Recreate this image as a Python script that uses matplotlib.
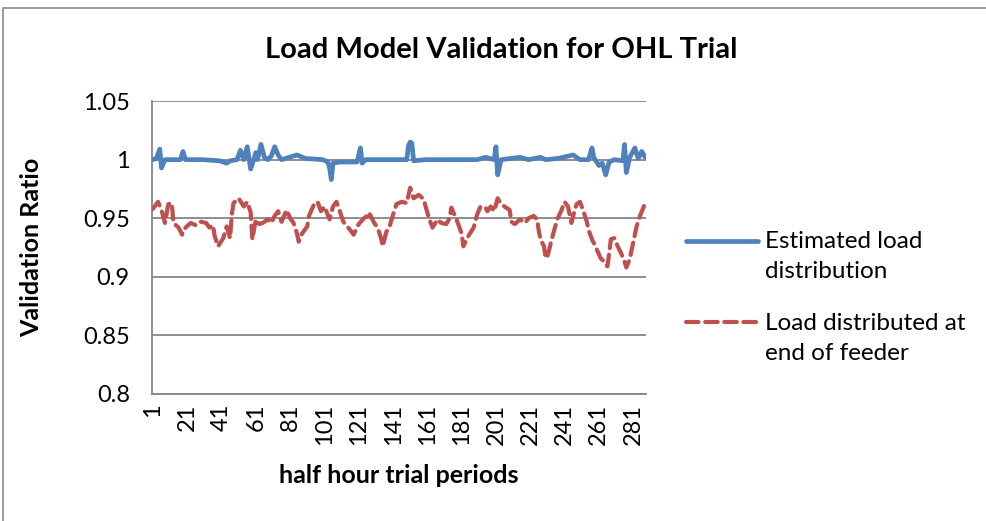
import matplotlib
matplotlib.use('Agg')
import matplotlib.pyplot as plt
from matplotlib.lines import Line2D
from matplotlib.patches import Rectangle

plt.rcParams['font.family'] = ['Lato', 'DejaVu Sans']

# Estimated load distribution (period, ratio)
est_periods = [1, 3, 5, 6, 8, 12, 17, 18.5, 20, 30, 40, 44, 46, 50, 52, 54, 56, 58, 60, 61,
               62, 64, 66, 68, 70, 72, 74, 76, 85, 90, 100, 103, 104, 105, 106, 110, 120, 122,
               123, 125, 140, 149, 150, 151, 152, 153, 160, 170, 190, 195, 200, 201, 202, 204,
               215, 220, 227, 230, 237, 246, 250, 255, 257, 258, 261, 263, 265, 267, 270, 275,
               276, 277, 279, 282, 284, 286, 288]
est_ratio = [1.000, 1.001, 1.009, 0.993, 1.000, 1.000, 1.000, 1.007, 1.000, 1.000, 0.999, 0.997,
             0.999, 1.000, 1.008, 1.000, 1.011, 0.992, 1.001, 1.006, 1.000, 1.013, 1.002, 1.000,
             1.003, 1.011, 1.004, 1.000, 1.004, 1.001, 1.000, 0.998, 0.993, 0.983, 0.997, 0.998,
             0.998, 1.010, 0.997, 1.000, 1.000, 1.000, 1.012, 1.015, 1.014, 0.999, 1.000, 1.000,
             1.000, 1.002, 1.000, 1.011, 0.987, 1.000, 1.002, 1.000, 1.002, 1.000, 1.001, 1.004,
             1.000, 1.000, 1.010, 1.002, 0.995, 0.997, 0.987, 0.998, 1.000, 0.999, 1.013, 0.989,
             1.002, 1.010, 1.001, 1.007, 1.002]

# Load distributed at end of feeder
end_periods = [1, 4, 6, 8, 10, 12, 13, 16, 18, 20, 23, 26, 29, 32, 34, 36, 37, 39, 42, 44, 46,
               47, 48, 51, 54, 56, 58, 59, 61, 63, 65, 68, 70, 72, 74, 76, 79, 81, 83, 85, 86,
               88, 91, 92, 95, 97, 99, 101, 104, 106, 108, 110, 112, 116, 118, 121, 124, 126,
               127, 130, 132, 134, 135, 137, 139, 141, 143, 146, 149, 151, 153, 156, 159, 160,
               162, 164, 167, 169, 172, 174, 175, 178, 181, 182, 185, 188, 190, 192, 195, 196,
               198, 200, 202, 204, 207, 209, 210, 212, 215, 218, 220, 223, 225, 226, 227, 229,
               230, 231, 233, 235, 237, 239, 241, 243, 245, 246, 248, 250, 252, 254, 255, 257,
               259, 262, 264, 266, 267, 268, 270, 272, 274, 276, 277, 279, 281, 283, 285, 288]
end_ratio = [0.958, 0.964, 0.957, 0.946, 0.962, 0.963, 0.946, 0.942, 0.936, 0.942, 0.946, 0.944,
             0.947, 0.946, 0.942, 0.944, 0.935, 0.926, 0.933, 0.943, 0.933, 0.953, 0.963, 0.967,
             0.960, 0.964, 0.955, 0.932, 0.949, 0.945, 0.946, 0.949, 0.946, 0.952, 0.956, 0.947,
             0.957, 0.950, 0.946, 0.937, 0.930, 0.937, 0.943, 0.952, 0.962, 0.964, 0.956, 0.960,
             0.949, 0.960, 0.964, 0.956, 0.947, 0.940, 0.936, 0.945, 0.950, 0.952, 0.955, 0.946,
             0.942, 0.933, 0.926, 0.938, 0.943, 0.953, 0.962, 0.964, 0.963, 0.976, 0.967, 0.970,
             0.966, 0.960, 0.950, 0.942, 0.949, 0.946, 0.945, 0.950, 0.959, 0.949, 0.937, 0.926,
             0.935, 0.942, 0.953, 0.960, 0.959, 0.956, 0.960, 0.956, 0.967, 0.962, 0.959, 0.957,
             0.947, 0.945, 0.949, 0.946, 0.950, 0.952, 0.949, 0.939, 0.932, 0.926, 0.916, 0.917,
             0.929, 0.940, 0.950, 0.956, 0.964, 0.960, 0.946, 0.952, 0.962, 0.964, 0.956, 0.947,
             0.940, 0.932, 0.926, 0.916, 0.913, 0.909, 0.920, 0.932, 0.933, 0.926, 0.920, 0.913,
             0.908, 0.915, 0.929, 0.943, 0.952, 0.963]

x_ticks = list(range(1, 289, 20))
y_ticks = [0.8, 0.85, 0.9, 0.95, 1, 1.05]
y_labels = ['0.8', '0.85', '0.9', '0.95', '1', '1.05']

blue = '#4F81BD'
red = '#C0504D'
grid_gray = '#868686'
dash = (0, (3.0, 1.6))

fig = plt.figure(figsize=(9.86, 5.21), dpi=100)
ax = fig.add_axes([0.1542, 0.2438, 0.5010, 0.5622])

# chart frame
fig.add_artist(Rectangle((0.003, -0.1), 1.2, 1.0846, transform=fig.transFigure,
                         fill=False, edgecolor='#8a8a8a', linewidth=1.2))

ax.plot(est_periods, est_ratio, color=blue, linewidth=3.4, solid_capstyle='round',
        solid_joinstyle='round', zorder=3)
ax.plot(end_periods, end_ratio, color=red, linewidth=3.0, linestyle=dash,
        dash_capstyle='round', zorder=3)

ax.set_xlim(0.5, 288.5)
ax.set_ylim(0.8, 1.05)
ax.set_yticks(y_ticks)
ax.set_yticklabels(y_labels)
ax.set_xticks(x_ticks)
ax.set_xticklabels([str(t) for t in x_ticks], rotation=90)
ax.tick_params(length=0, labelsize=17, pad=7)
ax.tick_params(axis='y', pad=16)

ax.grid(axis='y', color=grid_gray, linewidth=1.3)
ax.set_axisbelow(True)
for s in ['top', 'right']:
    ax.spines[s].set_visible(False)
for s in ['left', 'bottom']:
    ax.spines[s].set_color(grid_gray)
    ax.spines[s].set_linewidth(1.3)

fig.text(501 / 986, 1 - 50 / 521, 'Load Model Validation for OHL Trial', fontsize=21,
         fontweight='bold', ha='center', va='center')
ax.set_xlabel('half hour trial periods', fontsize=18, fontweight='bold', va='center')
ax.set_ylabel('Validation Ratio', fontsize=18, fontweight='bold', va='center')
ax.xaxis.set_label_coords(0.5, (394 - 476) / 293)
ax.yaxis.set_label_coords((32 - 152) / 494, 0.5)

# legend drawn to match the first-line alignment of the original
lx0, lx1, tx = 686 / 986, 758 / 986, 765 / 986
fig.add_artist(Line2D([lx0, lx1], [1 - 241 / 521] * 2, transform=fig.transFigure,
                      color=blue, linewidth=3.4, solid_capstyle='round'))
fig.add_artist(Line2D([lx0, lx1], [1 - 322 / 521] * 2, transform=fig.transFigure,
                      color=red, linewidth=3.0, linestyle=dash, dash_capstyle='round'))
for txt, ypx in [('Estimated load', 241), ('distribution', 272),
                 ('Load distributed at', 323), ('end of feeder', 354)]:
    fig.text(tx, 1 - ypx / 521, txt, fontsize=17.5, va='center')

fig.savefig('out.png', dpi=100)
